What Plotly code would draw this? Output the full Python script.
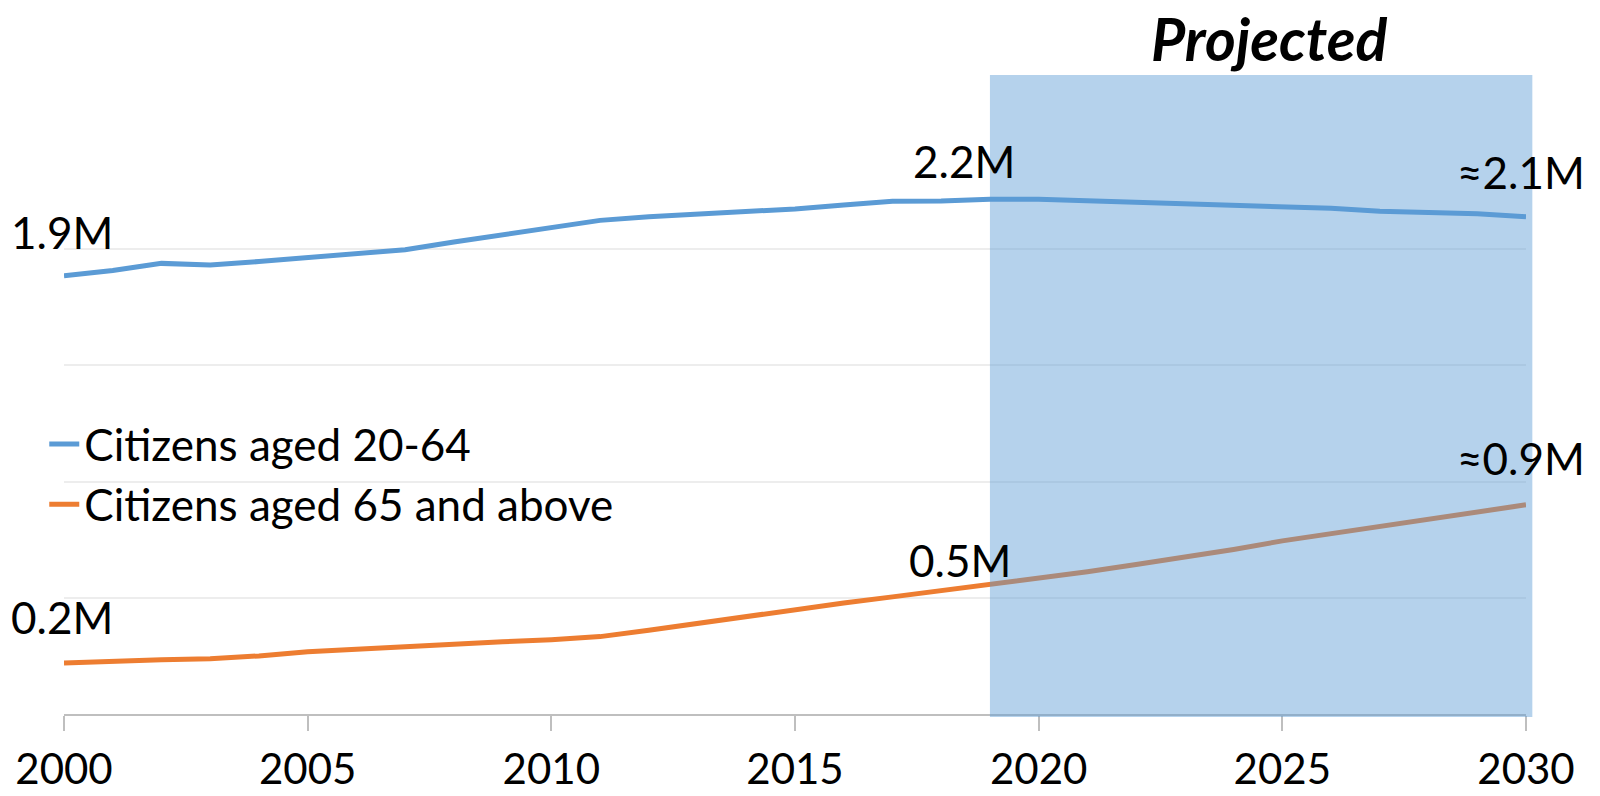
import plotly.graph_objects as go

years = list(range(2000, 2031))
aged_20_64 = [1.886, 1.908, 1.939, 1.932, 1.947, 1.965, 1.982, 1.998, 2.031, 2.061,
              2.096, 2.124, 2.140, 2.150, 2.163, 2.173, 2.190, 2.206, 2.207, 2.215,
              2.215, 2.208, 2.202, 2.197, 2.187, 2.182, 2.176, 2.163, 2.158, 2.153, 2.140]
aged_65_plus = [0.219, 0.228, 0.233, 0.238, 0.250, 0.268, 0.280, 0.289, 0.302, 0.311,
                0.320, 0.333, 0.360, 0.390, 0.423, 0.452, 0.478, 0.504, 0.530, 0.558,
                0.582, 0.612, 0.643, 0.673, 0.708, 0.745, 0.776, 0.808, 0.840, 0.870, 0.900]
series_names = ["Citizens aged 20-64", "Citizens aged 65 and above"]
colors = ["#5B9BD5", "#ED7D31"]
projection_start = 2019
projection_end = 2030.13
label_font = "Lato"

fig = go.Figure()
for name, vals, c in zip(series_names, [aged_20_64, aged_65_plus], colors):
    fig.add_trace(go.Scatter(x=years, y=vals, mode="lines", name=name,
                             line=dict(color=c, width=5), legendgroup=name))

x0, x1 = years[0], years[-1]
fig.add_shape(type="rect", xref="x domain", yref="paper",
              x0=(projection_start - x0) / (x1 - x0), x1=(projection_end - x0) / (x1 - x0),
              y0=-0.005, y1=1.10, fillcolor="#5B9BD5", opacity=0.45,
              line=dict(width=0), layer="above")

labels = [
    (years[0], aged_20_64[0], "1.9M", -2, 44),
    (2019, aged_20_64[19], "2.2M", -26, 38),
    (years[-1], aged_20_64[-1], "≈2.1M", -5, 45),
    (years[0], aged_65_plus[0], "0.2M", -2, 46),
    (2019, aged_65_plus[19], "0.5M", -30, 24),
    (years[-1], aged_65_plus[-1], "≈0.9M", -5, 47),
]
for x, y, t, xs, ys in labels:
    fig.add_annotation(x=x, y=y, text=t, showarrow=False, xshift=xs, yshift=ys,
                       font=dict(family=label_font, size=44, color="#000000"))

fig.add_annotation(xref="paper", yref="paper", x=0.824, y=1.162, text="Projected",
                   xanchor="center", yanchor="middle", showarrow=False,
                   font=dict(family=label_font, size=59, color="#000000",
                             weight="bold", style="italic"))

fig.update_layout(
    width=1600, height=796,
    margin=dict(l=64, r=74, t=133, b=82, autoexpand=False),
    paper_bgcolor="white", plot_bgcolor="white",
    showlegend=True,
    legend=dict(x=-0.0135, y=0.525, xanchor="left", yanchor="top",
                font=dict(family=label_font, size=44, color="#000000"),
                bgcolor="rgba(0,0,0,0)", tracegroupgap=0, itemwidth=30),
    xaxis=dict(range=[x0, x1], tickmode="array", tickvals=years[::5],
               ticktext=[str(v) for v in years[::5]], automargin=False,
               showgrid=False, showline=True, linecolor="#BFBFBF", linewidth=1.5,
               ticks="outside", ticklen=15, tickcolor="#BFBFBF", tickwidth=1.5,
               ticklabelstandoff=3,
               tickfont=dict(family=label_font, size=42, color="#000000"),
               zeroline=False),
    yaxis=dict(range=[0, 2.5], dtick=0.5, showticklabels=False, showgrid=True,
               automargin=False,
               gridcolor="#EDEDED", gridwidth=1.5, zeroline=False, showline=False),
)

fig.write_html("out.html")
